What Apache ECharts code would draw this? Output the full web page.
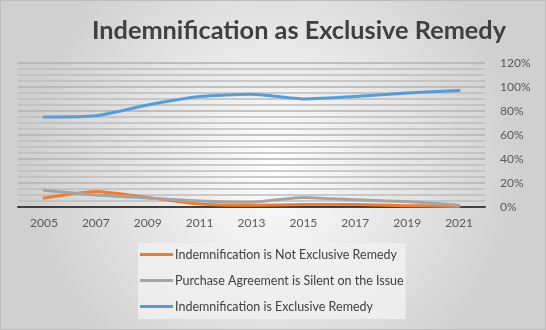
<!DOCTYPE html>
<html><head><meta charset="utf-8">
<script src="https://cdn.jsdelivr.net/npm/echarts@6/dist/echarts.min.js"></script>
<style>html,body{margin:0;padding:0;}#c{width:546px;height:330px;}</style>
</head><body><div id="c"></div>
<script>
const years = ['2005','2007','2009','2011','2013','2015','2017','2019','2021'];
const notExclusive = [7.5, 13, 8, 2.5, 1.5, 2, 2, 1, 0.5];
const silent = [14, 10, 7.5, 5, 4, 8, 6, 4.5, 1.5];
const exclusive = [75, 76, 85, 92, 94, 90, 92, 95, 97];
const seriesNames = ['Indemnification is Not Exclusive Remedy','Purchase Agreement is Silent on the Issue','Indemnification is Exclusive Remedy'];
const colors = ['#ED7D31','#A5A5A5','#5B9BD5'];
const font = 'Lato, "Open Sans", sans-serif';
const chart = echarts.init(document.getElementById('c'));
const mk = (name, data, color) => ({
  name, type:'line', data, smooth:0.2, symbol:'none',
  lineStyle:{color, width:3, cap:'round', join:'round'}, itemStyle:{color}
});
chart.setOption({
  backgroundColor:{type:'radial', x:0.5, y:0.5, r:0.75, colorStops:[{offset:0,color:'#ffffff'},{offset:1,color:'#d0d0d0'}]},
  graphic:[{type:'rect', shape:{x:0.5,y:0.5,width:545,height:329}, style:{fill:'none', stroke:'#bdbdbd', lineWidth:1}, silent:true}],
  title:{text:'Indemnification as Exclusive Remedy', left:294, textAlign:'center', top:13,
    textStyle:{fontFamily:font, fontWeight:'bold', fontSize:25.3, color:'#404040'}},
  grid:{left:18, right:61, top:63, bottom:123},
  legend:{orient:'vertical', left:138, top:243, itemWidth:33, itemHeight:3, itemGap:13,
    icon:'rect', backgroundColor:'rgba(240,240,240,0.85)', padding:[5,2,6,2],
    textStyle:{fontFamily:font, fontSize:12.5, color:'#404040', padding:[0,0,0,-3]},
    data:seriesNames},
  xAxis:{type:'category', data:years, boundaryGap:true,
    axisLine:{lineStyle:{color:'#404040', width:2}}, axisTick:{show:false},
    axisLabel:{fontFamily:font, fontSize:12, color:'#595959', margin:10}},
  yAxis:{type:'value', position:'right', min:0, max:120, interval:20,
    axisLine:{show:false}, axisTick:{show:false},
    axisLabel:{fontFamily:font, fontSize:12, color:'#595959', margin:15, formatter:v=>v+'%'},
    splitLine:{lineStyle:{color:'#b0b0b0', width:1.5}},
    minorTick:{show:false, splitNumber:4},
    minorSplitLine:{show:true, lineStyle:{color:'#bdbdbd', width:1.5}}},
  series:[mk(seriesNames[0], notExclusive, colors[0]), mk(seriesNames[1], silent, colors[1]), mk(seriesNames[2], exclusive, colors[2])]
});
</script></body></html>
